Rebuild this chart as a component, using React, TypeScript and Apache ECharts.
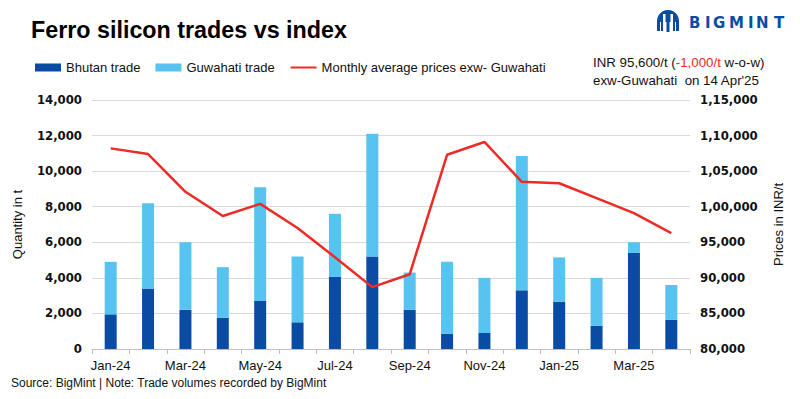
import React, { useEffect, useRef } from "react";
import * as echarts from "echarts";

const categories = ["Jan-24","Feb-24","Mar-24","Apr-24","May-24","Jun-24","Jul-24","Aug-24","Sep-24","Oct-24","Nov-24","Dec-24","Jan-25","Feb-25","Mar-25","Apr-25"];
const bhutanTrade = [1950, 3400, 2200, 1750, 2700, 1500, 4050, 5200, 2200, 860, 900, 3300, 2650, 1300, 5400, 1650];
const totalTrade = [4900, 8200, 6000, 4600, 9100, 5200, 7600, 12100, 4300, 4900, 4000, 10850, 5150, 4000, 6000, 3600];
const guwahatiTrade = totalTrade.map((t, i) => t - bhutanTrade[i]);
const monthlyPrice = [108200, 107400, 102100, 98700, 100400, 97000, 92900, 88700, 90500, 107300, 109100, 103500, 103300, 101200, 99100, 96300];

const FONT = "'Liberation Sans', Arial, sans-serif";
const BOLD_TICK_FONT = "'DejaVu Sans', sans-serif";

function indianFormat(v: number): string {
  const s = String(Math.round(v));
  if (s.length <= 3) return s;
  const last3 = s.slice(-3);
  let rest = s.slice(0, -3);
  const parts: string[] = [];
  while (rest.length > 2) {
    parts.unshift(rest.slice(-2));
    rest = rest.slice(0, -2);
  }
  if (rest) parts.unshift(rest);
  return parts.join(",") + "," + last3;
}

function westernFormat(v: number): string {
  return String(Math.round(v)).replace(/\B(?=(\d{3})+(?!\d))/g, ",");
}

const logoLetters = [
  { ch: "B", x: 689 },
  { ch: "I", x: 705 },
  { ch: "G", x: 713 },
  { ch: "M", x: 729 },
  { ch: "I", x: 748 },
  { ch: "N", x: 756 },
  { ch: "T", x: 774 },
];

export default function App() {
  const ref = useRef<HTMLDivElement>(null);
  useEffect(() => {
    document.body.style.margin = "0";
    const chart = echarts.init(ref.current!, null, { renderer: "svg" });
    const blue = "#0a4ca3";
    chart.setOption({
      animation: false,
      backgroundColor: "#ffffff",
      textStyle: { fontFamily: FONT },
      grid: { left: 92, right: 110, top: 100, bottom: 50, containLabel: false },
      legend: {
        left: 30,
        top: 56,
        itemWidth: 26,
        itemHeight: 8,
        itemGap: 15,
        textStyle: { fontFamily: FONT, fontSize: 13, color: "#111" },
        data: [
          { name: "Bhutan trade", icon: "rect" },
          { name: "Guwahati trade", icon: "rect" },
          { name: "Monthly average prices exw- Guwahati", itemStyle: { opacity: 0 } },
        ],
      },
      xAxis: {
        type: "category",
        data: categories,
        boundaryGap: true,
        axisLine: { lineStyle: { color: "#bfbfbf" } },
        axisTick: { show: true, interval: 0, length: 5, lineStyle: { color: "#bfbfbf" } },
        axisLabel: { interval: 1, color: "#111", fontSize: 13, fontFamily: FONT, margin: 10 },
      },
      yAxis: [
        {
          type: "value",
          min: 0,
          max: 14000,
          interval: 2000,
          name: "Quantity in t",
          nameLocation: "middle",
          nameGap: 68,
          nameRotate: 90,
          nameTextStyle: { fontFamily: FONT, fontSize: 13, color: "#111" },
          axisLine: { show: false },
          axisTick: { show: false },
          splitLine: { lineStyle: { color: "#d9d9d9", width: 1 } },
          axisLabel: {
            color: "#111",
            fontWeight: "bold",
            fontSize: 11.7,
            fontFamily: BOLD_TICK_FONT,
            margin: 10,
            formatter: (v: number) => westernFormat(v),
          },
        },
        {
          type: "value",
          min: 80000,
          max: 115000,
          interval: 5000,
          position: "right",
          name: "Prices in INR/t",
          nameLocation: "middle",
          nameGap: 82,
          nameRotate: 90,
          nameTextStyle: { fontFamily: FONT, fontSize: 13, color: "#111" },
          axisLine: { show: false },
          axisTick: { show: false },
          splitLine: { show: false },
          axisLabel: {
            color: "#111",
            fontWeight: "bold",
            fontSize: 11.7,
            fontFamily: BOLD_TICK_FONT,
            margin: 10,
            formatter: (v: number) => indianFormat(v),
          },
        },
      ],
      series: [
        {
          name: "Bhutan trade",
          type: "bar",
          stack: "trade",
          barWidth: 12,
          data: bhutanTrade,
          itemStyle: { color: blue },
          yAxisIndex: 0,
        },
        {
          name: "Guwahati trade",
          type: "bar",
          stack: "trade",
          barWidth: 12,
          data: guwahatiTrade,
          itemStyle: { color: "#56c3f0" },
          yAxisIndex: 0,
        },
        {
          name: "Monthly average prices exw- Guwahati",
          type: "line",
          yAxisIndex: 1,
          data: monthlyPrice,
          symbol: "none",
          lineStyle: { color: "#ee2a24", width: 2.5 },
          itemStyle: { color: "#ee2a24" },
        },
      ],
      graphic: [
        {
          type: "text",
          left: 31,
          top: 18,
          style: { text: "Ferro silicon trades vs index", fontFamily: FONT, fontSize: 23.3, fontWeight: "bold", fill: "#000" },
        },
        {
          type: "text",
          left: 593,
          top: 53,
          style: {
            text: "INR 95,600/t ({r|-1,000/t} w-o-w)\nexw-Guwahati  on 14 Apr'25",
            fontFamily: FONT,
            fontSize: 13.3,
            lineHeight: 18,
            fill: "#111",
            rich: { r: { fill: "#ee2a24", fontFamily: FONT, fontSize: 13.3 } },
          },
        },
        {
          type: "text",
          left: 11,
          top: 377,
          style: { text: "Source: BigMint | Note: Trade volumes recorded by BigMint", fontFamily: FONT, fontSize: 12, fill: "#111" },
        },
        {
          type: "group",
          children: [
            { type: "circle", shape: { cx: 668, cy: 21, r: 11 }, style: { fill: blue } },
            { type: "rect", shape: { x: 655, y: 22, width: 26, height: 12 }, style: { fill: "#fff" } },
            { type: "rect", shape: { x: 657, y: 20, width: 3, height: 11 }, style: { fill: blue } },
            { type: "rect", shape: { x: 676, y: 20, width: 3, height: 11 }, style: { fill: blue } },
            { type: "rect", shape: { x: 663, y: 14, width: 2.5, height: 14 }, style: { fill: "#fff" } },
            { type: "rect", shape: { x: 670.5, y: 14, width: 2.5, height: 14 }, style: { fill: "#fff" } },
            { type: "rect", shape: { x: 661, y: 21, width: 2, height: 10 }, style: { fill: blue } },
            { type: "rect", shape: { x: 673, y: 21, width: 2, height: 10 }, style: { fill: blue } },
            { type: "rect", shape: { x: 666.5, y: 20, width: 3, height: 12 }, style: { fill: blue } },
            ...logoLetters.map((l) => ({
              type: "text",
              x: l.x,
              y: 23,
              style: {
                text: l.ch,
                fontFamily: "'DejaVu Sans', sans-serif",
                fontSize: 15,
                fontWeight: "bold",
                fill: blue,
                textVerticalAlign: "middle",
              },
            })),
          ],
        },
      ],
    });
    return () => chart.dispose();
  }, []);
  return <div ref={ref} style={{ width: 800, height: 399, position: "fixed", left: 0, top: 0 }} />;
}
